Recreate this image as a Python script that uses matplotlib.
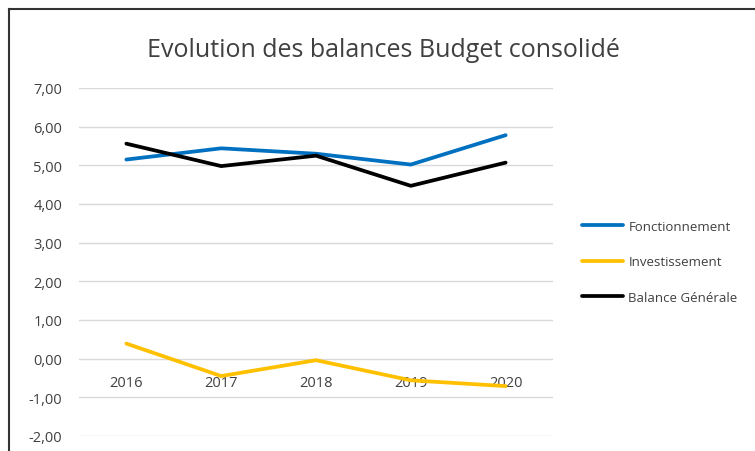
import matplotlib.pyplot as plt
from matplotlib.lines import Line2D

# Data
years = ["2016", "2017", "2018", "2019", "2020"]
fonctionnement = [5.15, 5.44, 5.30, 5.02, 5.78]
investissement = [0.39, -0.45, -0.04, -0.56, -0.71]
balance_generale = [5.56, 4.98, 5.25, 4.47, 5.07]

y_ticks = [-2, -1, 0, 1, 2, 3, 4, 5, 6, 7]
y_labels = [f"{v:.2f}".replace(".", ",") for v in y_ticks]

text_color = "#404040"
plt.rcParams["font.family"] = ["Open Sans", "DejaVu Sans"]

fig = plt.figure(figsize=(7.55, 4.52), dpi=100)
ax = fig.add_axes([0.1046, 0.0332, 0.6279, 0.7699])

x = list(range(len(years)))
ax.plot(x, fonctionnement, color="#0070C0", lw=2.7, label="Fonctionnement", solid_capstyle="round")
ax.plot(x, investissement, color="#FFC000", lw=2.7, label="Investissement", solid_capstyle="round")
ax.plot(x, balance_generale, color="black", lw=2.7, label="Balance Générale", solid_capstyle="round")

ax.set_xlim(-0.5, len(years) - 0.5)
ax.set_ylim(-2, 7)
ax.set_yticks(y_ticks)
ax.set_yticklabels(y_labels)
ax.set_xticks(x)
ax.set_xticklabels(years)

ax.grid(axis="y", color="#d9d9d9", lw=1)
ax.set_axisbelow(True)
for s in ["top", "right", "left"]:
    ax.spines[s].set_visible(False)
# category labels sit under the zero line, like Excel
ax.spines["bottom"].set_position(("data", 0))
ax.spines["bottom"].set_visible(False)
ax.tick_params(axis="y", length=0, pad=12, labelsize=10.5, labelcolor=text_color)
ax.tick_params(axis="x", length=0, pad=12, labelsize=10.5, labelcolor=text_color)

fig.text(0.508, 0.889, "Evolution des balances Budget consolidé", ha="center", va="center",
         fontsize=18, color=text_color)

leg = ax.legend(loc="upper left", bbox_to_anchor=(0.771, 0.512), bbox_transform=fig.transFigure,
                frameon=False, fontsize=9.5, handlelength=3.1, handletextpad=0.4,
                labelspacing=1.72, borderpad=0, borderaxespad=0)
for t in leg.get_texts():
    t.set_color(text_color)

# chart border (top and left edges visible in the crop)
fig.add_artist(Line2D([9 / 755, 1], [1 - 10 / 452] * 2, color="#333333", lw=1.5))
fig.add_artist(Line2D([9 / 755] * 2, [0, 1 - 10 / 452], color="#333333", lw=1.5))

fig.savefig("out.png", dpi=100)
